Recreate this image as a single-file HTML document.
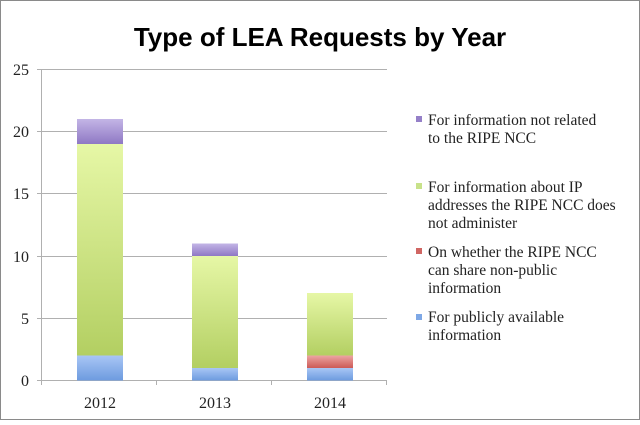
<!DOCTYPE html>
<html><head><style>
body{margin:0;background:#fff}
</style></head><body>
<svg width="640" height="420" xmlns="http://www.w3.org/2000/svg">
<defs>
<linearGradient id="pu" x1="0" y1="0" x2="0" y2="1"><stop offset="0" stop-color="#c3b5e6"/><stop offset="1" stop-color="#8f78c4"/></linearGradient>
<linearGradient id="gr" x1="0" y1="0" x2="0" y2="1"><stop offset="0" stop-color="#e6f7a6"/><stop offset="1" stop-color="#b3cf62"/></linearGradient>
<linearGradient id="bl" x1="0" y1="0" x2="0" y2="1"><stop offset="0" stop-color="#a9c6f5"/><stop offset="1" stop-color="#6d9bdf"/></linearGradient>
<linearGradient id="rd" x1="0" y1="0" x2="0" y2="1"><stop offset="0" stop-color="#eca5a3"/><stop offset="1" stop-color="#cc5a57"/></linearGradient>
</defs>
<rect x="0.5" y="0.5" width="639" height="419" fill="#fff" stroke="#8a8a8a"/>
<text x="320" y="46" text-anchor="middle" font-family="Liberation Sans, sans-serif" font-weight="bold" font-size="26" fill="#000">Type of LEA Requests by Year</text>
<g stroke="#b0b0b0" stroke-width="1">
<line x1="41" y1="69.5" x2="387" y2="69.5"/>
<line x1="41" y1="131.5" x2="387" y2="131.5"/>
<line x1="41" y1="193.5" x2="387" y2="193.5"/>
<line x1="41" y1="256.5" x2="387" y2="256.5"/>
<line x1="41" y1="318.5" x2="387" y2="318.5"/>
<line x1="41.5" y1="69" x2="41.5" y2="385"/>
<line x1="37" y1="380.5" x2="387" y2="380.5"/>
<line x1="156.5" y1="380" x2="156.5" y2="385"/>
<line x1="271.5" y1="380" x2="271.5" y2="385"/>
<line x1="386.5" y1="380" x2="386.5" y2="385"/>
<line x1="37" y1="69.5" x2="41" y2="69.5"/><line x1="37" y1="131.5" x2="41" y2="131.5"/><line x1="37" y1="193.5" x2="41" y2="193.5"/><line x1="37" y1="256.5" x2="41" y2="256.5"/><line x1="37" y1="318.5" x2="41" y2="318.5"/>
</g>
<rect x="77" y="355.5" width="46" height="25" fill="url(#bl)"/>
<rect x="77" y="144" width="46" height="211.5" fill="url(#gr)"/>
<rect x="77" y="119" width="46" height="25" fill="url(#pu)"/>
<rect x="192" y="368" width="46" height="12.5" fill="url(#bl)"/>
<rect x="192" y="256" width="46" height="112" fill="url(#gr)"/>
<rect x="192" y="243.5" width="46" height="12.5" fill="url(#pu)"/>
<rect x="307" y="368" width="46" height="12.5" fill="url(#bl)"/>
<rect x="307" y="355.5" width="46" height="12.5" fill="url(#rd)"/>
<rect x="307" y="293" width="46" height="62.5" fill="url(#gr)"/>
<g font-family="Liberation Serif, serif" font-size="16" fill="#222" text-anchor="end">
<text x="29" y="75">25</text><text x="29" y="137">20</text><text x="29" y="199">15</text><text x="29" y="262">10</text><text x="29" y="324">5</text><text x="29" y="386">0</text>
</g>
<g font-family="Liberation Serif, serif" font-size="16" fill="#222" text-anchor="middle">
<text x="100" y="408">2012</text><text x="215" y="408">2013</text><text x="330" y="408">2014</text>
</g>
<rect x="416" y="116" width="6" height="6" fill="#9580c8"/>
<rect x="416" y="183" width="6" height="6" fill="#c8e28a"/>
<rect x="416" y="248" width="6" height="6" fill="#d06663"/>
<rect x="416" y="314" width="6" height="6" fill="#7ea8e6"/>
<g font-family="Liberation Serif, serif" font-size="15.5" fill="#222">
<text x="428" y="125">For information not related</text>
<text x="428" y="143">to the RIPE NCC</text>
<text x="428" y="192">For information about IP</text>
<text x="428" y="210">addresses the RIPE NCC does</text>
<text x="428" y="228">not administer</text>
<text x="428" y="257">On whether the RIPE NCC</text>
<text x="428" y="275">can share non-public</text>
<text x="428" y="293">information</text>
<text x="428" y="322">For publicly available</text>
<text x="428" y="340">information</text>
</g>
</svg>
</body></html>
